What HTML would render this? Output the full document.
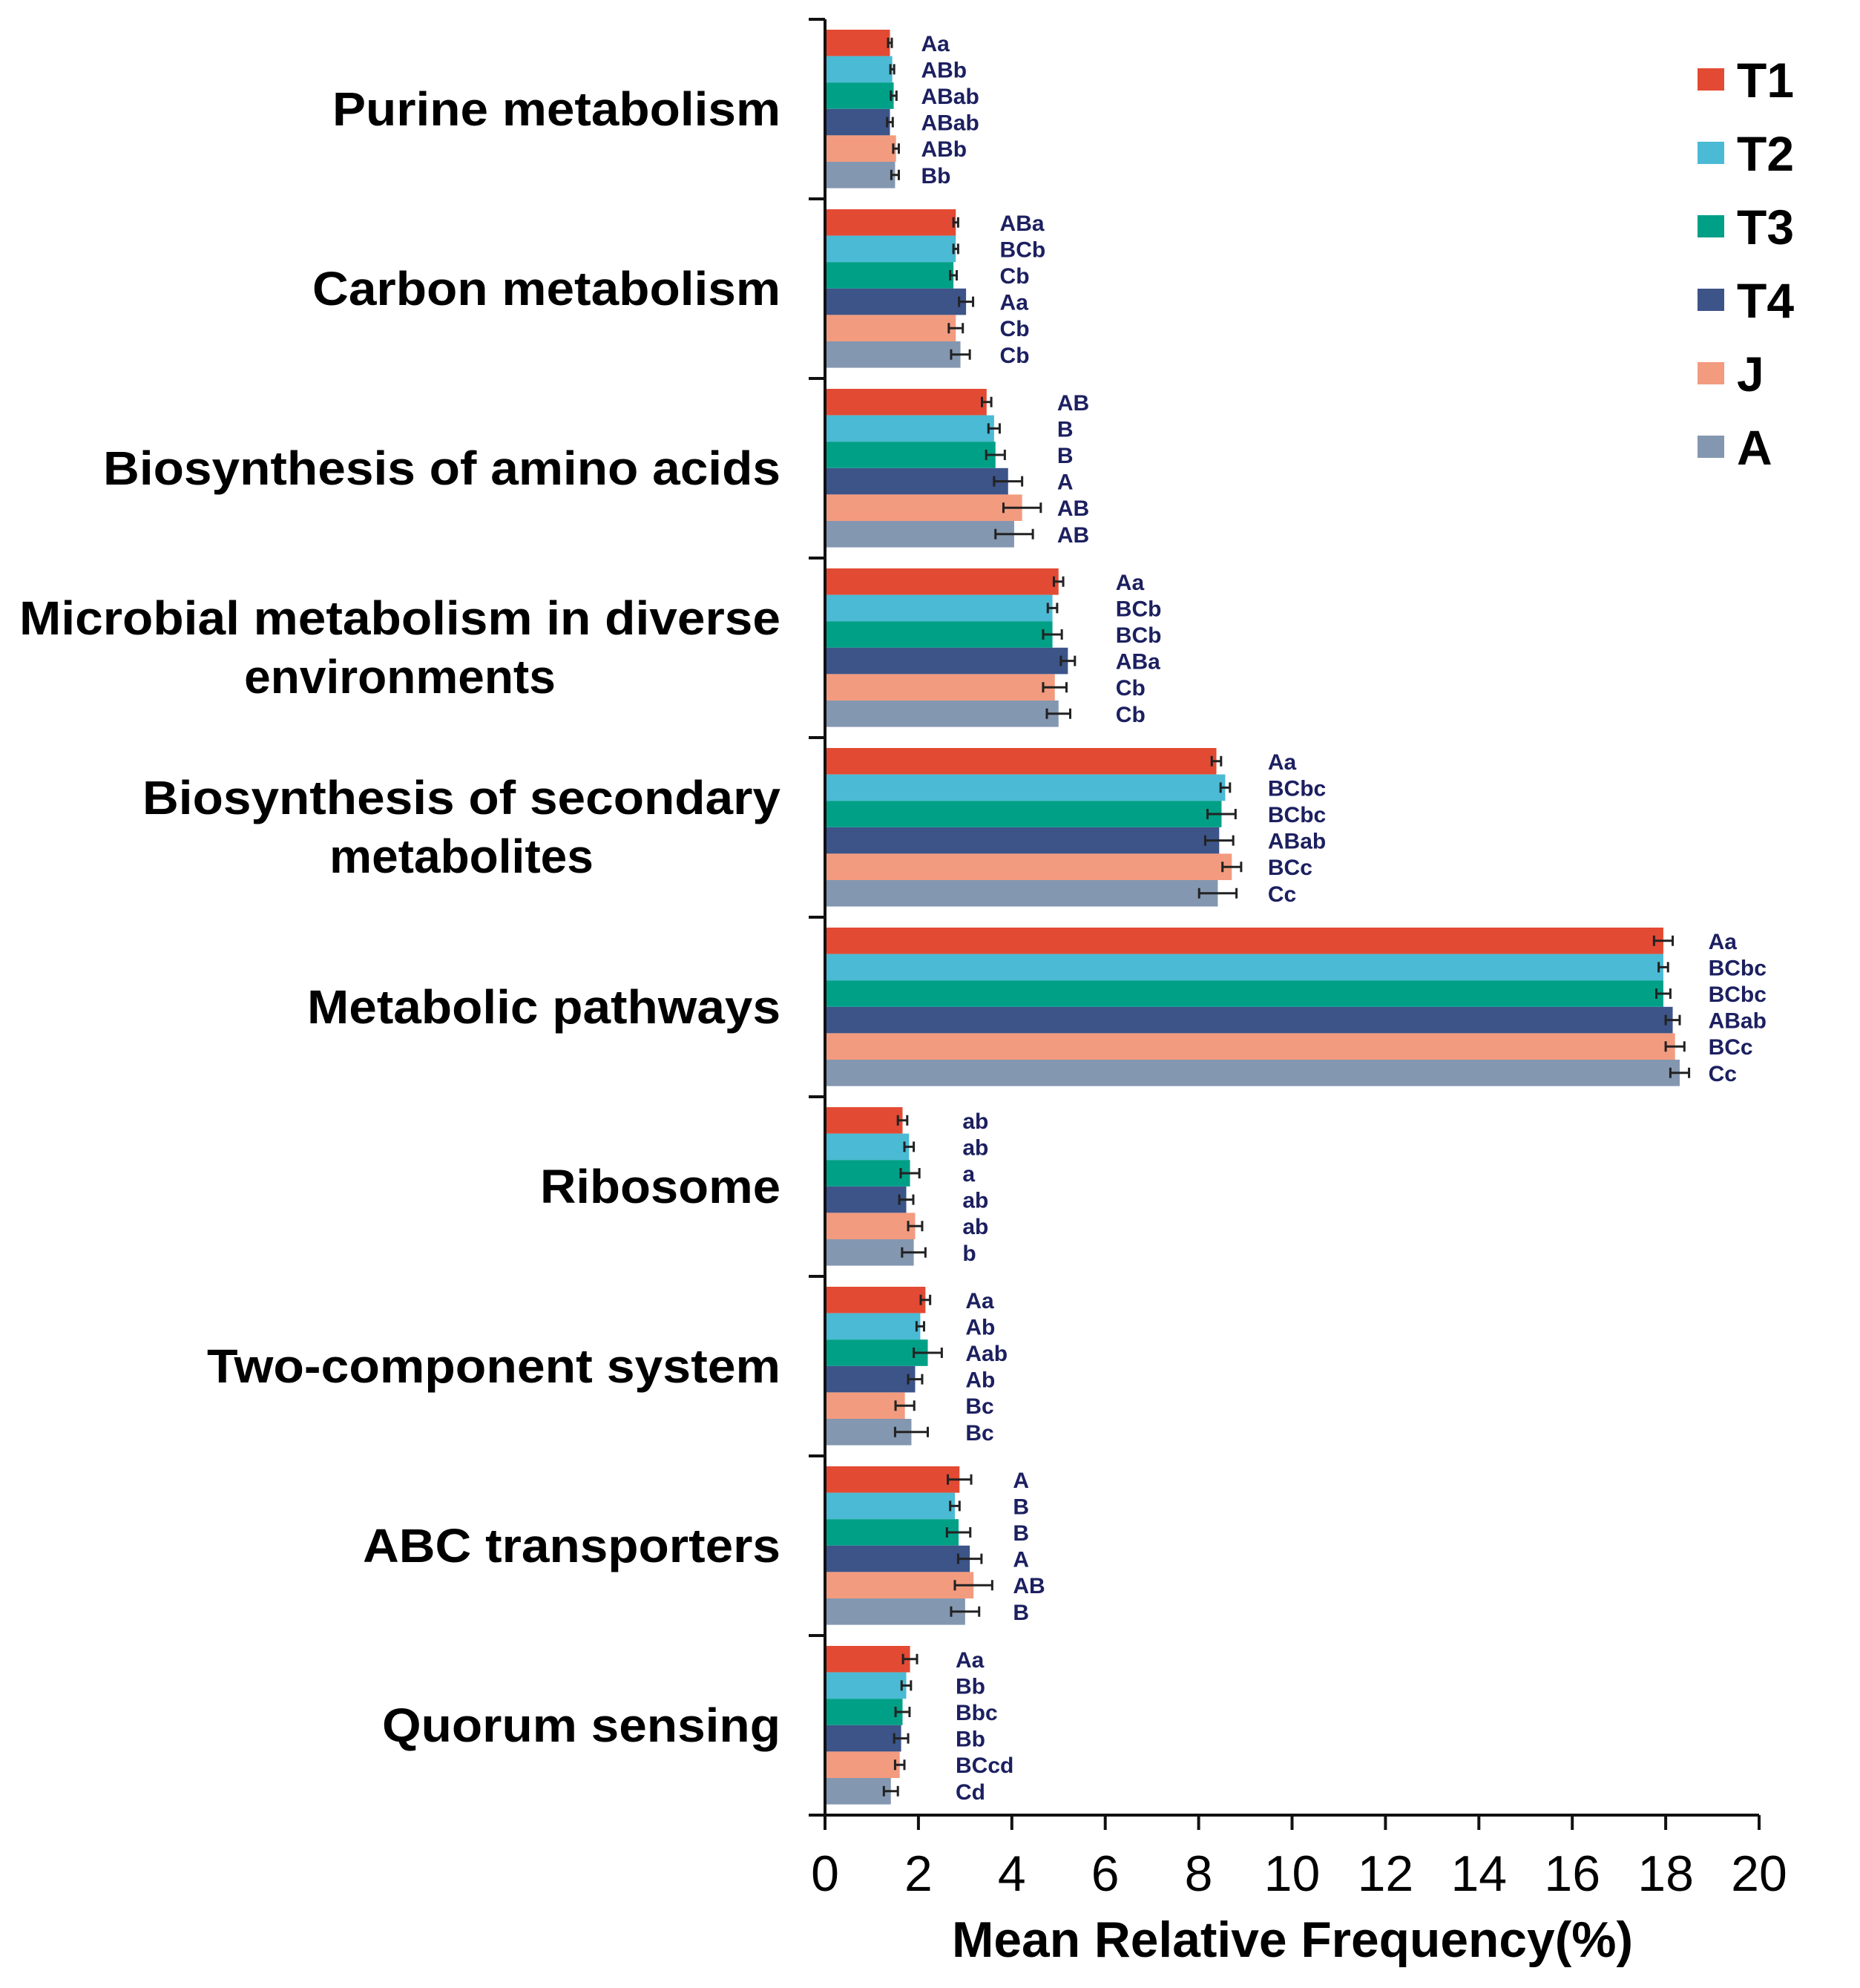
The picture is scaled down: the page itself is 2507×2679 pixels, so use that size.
<!DOCTYPE html>
<html><head><meta charset="utf-8"><style>
html,body{margin:0;padding:0;background:#fff;}
svg{display:block;font-family:"Liberation Sans",Arial,sans-serif;}
</style></head><body>
<svg id="chart" width="2507" height="2679" viewBox="0 0 2507 2679"></svg>
<script>
const categories = [
  ["Purine metabolism"],
  ["Carbon metabolism"],
  ["Biosynthesis of amino acids"],
  ["Microbial metabolism in diverse","environments"],
  ["Biosynthesis of secondary","metabolites"],
  ["Metabolic pathways"],
  ["Ribosome"],
  ["Two-component system"],
  ["ABC transporters"],
  ["Quorum sensing"]
];
const seriesNames = ["T1","T2","T3","T4","J","A"];
const seriesColors = ["#e34a33","#4bbad4","#00a087","#3c5488","#f39b7f","#8497b0"];
const valT1 = [1.39,2.80,3.46,5.00,8.38,17.95,1.66,2.15,2.88,1.82];
const valT2 = [1.44,2.80,3.62,4.87,8.57,17.95,1.80,2.04,2.78,1.74];
const valT3 = [1.47,2.75,3.65,4.87,8.49,17.95,1.82,2.20,2.86,1.66];
const valT4 = [1.39,3.02,3.92,5.20,8.44,18.15,1.74,1.93,3.10,1.63];
const valJ  = [1.52,2.80,4.22,4.92,8.71,18.20,1.93,1.71,3.18,1.60];
const valA  = [1.50,2.90,4.05,5.00,8.41,18.30,1.90,1.85,3.00,1.41];
const errT1 = [0.04,0.05,0.10,0.10,0.10,0.20,0.10,0.10,0.25,0.15];
const errT2 = [0.04,0.05,0.12,0.10,0.10,0.10,0.10,0.08,0.10,0.10];
const errT3 = [0.06,0.07,0.20,0.20,0.30,0.15,0.20,0.30,0.25,0.15];
const errT4 = [0.06,0.15,0.30,0.15,0.30,0.15,0.15,0.15,0.25,0.15];
const errJ  = [0.06,0.15,0.40,0.25,0.20,0.20,0.15,0.20,0.40,0.10];
const errA  = [0.08,0.20,0.40,0.25,0.40,0.20,0.25,0.35,0.30,0.15];
const letters = [
  ["Aa","ABb","ABab","ABab","ABb","Bb"],
  ["ABa","BCb","Cb","Aa","Cb","Cb"],
  ["AB","B","B","A","AB","AB"],
  ["Aa","BCb","BCb","ABa","Cb","Cb"],
  ["Aa","BCbc","BCbc","ABab","BCc","Cc"],
  ["Aa","BCbc","BCbc","ABab","BCc","Cc"],
  ["ab","ab","a","ab","ab","b"],
  ["Aa","Ab","Aab","Ab","Bc","Bc"],
  ["A","B","B","A","AB","B"],
  ["Aa","Bb","Bbc","Bb","BCcd","Cd"]
];
const xTicks = [0,2,4,6,8,10,12,14,16,18,20];
const labelWidths = [604,631,913,1026,860,638,324,773,563,537];
const letterGap = [30,36,22,55,36,26,50,32,28,52];

const values = [valT1,valT2,valT3,valT4,valJ,valA];
const errors = [errT1,errT2,errT3,errT4,errJ,errA];
const NS="http://www.w3.org/2000/svg";
const svg=document.getElementById('chart');
const X0=1112, X1=2371, YTOP=26, YBOT=2446, XMAX=20;
const groupH=(YBOT-YTOP)/categories.length;
const barH=35.6, barOff=14;
const x=v=>X0+v/XMAX*(X1-X0);
const gy=i=>YTOP+i*groupH;
function mk(tag,attrs,parent){const e=document.createElementNS(NS,tag);for(const k in attrs)e.setAttribute(k,attrs[k]);(parent||svg).appendChild(e);return e;}

categories.forEach((cat,i)=>{
  const g=mk('g',{});
  
  
  let maxEnd=0;
  for(let s=0;s<6;s++){maxEnd=Math.max(maxEnd,values[s][i]+errors[s][i]);}
  for(let s=0;s<6;s++){
    const v=values[s][i], e=errors[s][i];
    const y=gy(i)+barOff+s*barH;
    const r=mk('rect',{x:X0,y:y,width:x(v)-X0,height:barH,fill:seriesColors[s]},g);
    
    
    const cy=y+barH/2;
    const eb=mk('path',{d:`M${x(v-e)},${cy}H${x(v+e)}M${x(v-e)},${cy-7}V${cy+7}M${x(v+e)},${cy-7}V${cy+7}`,stroke:'#222',"stroke-width":3,fill:'none'},g);
    
    
    const t=mk('text',{x:x(maxEnd)+letterGap[i],y:cy+11,"font-size":30,"font-weight":"bold",fill:'#1c2060'},g);
    t.textContent=letters[i][s];
    
    
  }
  const cyc=gy(i)+groupH/2;
  if(cat.length===1){
    const t=mk('text',{x:1052,y:cyc+22,"font-size":64,"font-weight":"bold","text-anchor":"end",textLength:labelWidths[i],lengthAdjust:"spacingAndGlyphs"});
    t.textContent=cat[0];
    
    
  } else {
    const cx=1052-labelWidths[i]/2;
    const t1=mk('text',{x:cx,y:cyc-18,"font-size":64,"font-weight":"bold","text-anchor":"middle",textLength:labelWidths[i],lengthAdjust:"spacingAndGlyphs"});
    t1.textContent=cat[0];
    
    
    const t2=mk('text',{x:cx,y:cyc+61,"font-size":64,"font-weight":"bold","text-anchor":"middle"});
    t2.textContent=cat[1];
    
    
  }
});

const ya=mk('path',{d:`M${X0},${YTOP}V${YBOT}`,stroke:'#111',"stroke-width":4});


for(let i=0;i<=categories.length;i++){
  const tk=mk('path',{d:`M${X0-22},${gy(i)}H${X0}`,stroke:'#111',"stroke-width":4});
  
  
}
const xa=mk('path',{d:`M${X0-22},${YBOT}H${X1}`,stroke:'#111',"stroke-width":4});


xTicks.forEach(v=>{
  const tk=mk('path',{d:`M${x(v)},${YBOT}V${YBOT+20}`,stroke:'#111',"stroke-width":4});
  
  
  const t=mk('text',{x:x(v),y:2548,"font-size":68,"text-anchor":"middle"});
  t.textContent=v;
  
  
});
const title=mk('text',{x:1742,y:2637,"font-size":68,"font-weight":"bold","text-anchor":"middle",textLength:918,lengthAdjust:"spacingAndGlyphs"});
title.textContent="Mean Relative Frequency(%)";



const lg=mk('g',{});


seriesNames.forEach((n,s)=>{
  const cy=107+s*99;
  const r=mk('rect',{x:2288,y:cy-15,width:36,height:30,fill:seriesColors[s]},lg);
  
  
  const t=mk('text',{x:2341,y:cy+24,"font-size":66,"font-weight":"bold"},lg);
  t.textContent=n;
  
  
});
</script>
</body></html>
